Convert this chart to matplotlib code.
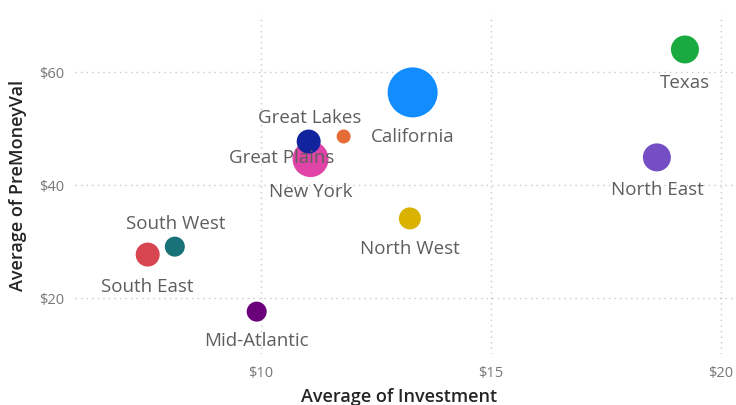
import matplotlib
matplotlib.use('Agg')
import matplotlib.pyplot as plt
import numpy as np

plt.rcParams['font.family'] = ['Open Sans', 'DejaVu Sans']

regions = ['Texas', 'California', 'North East', 'New York', 'Great Lakes',
           'Great Plains', 'North West', 'South West', 'South East', 'Mid-Atlantic']
investment = [19.22, 13.30, 18.61, 11.08, 11.04, 11.80, 13.24, 8.13, 7.54, 9.91]
premoney = [63.9, 56.3, 44.8, 44.5, 47.6, 48.5, 34.0, 29.0, 27.6, 17.5]
deals = [196, 625, 196, 324, 144, 49, 121, 100, 144, 100]
colors = ['#1AAB40', '#118DFF', '#744EC2', '#E044A7', '#12239E',
          '#E66C37', '#D9B300', '#197278', '#D64550', '#6B007B']
# label offsets in pixels from bubble centre
label_offsets = [(0, -33), (0, -44), (0, -32), (0, -32), (1, 25),
                 (-62, -21), (0, -30), (1, 24), (0, -31), (0, -28)]

fig = plt.figure(figsize=(7.36, 4.06), dpi=100)
ax = fig.add_axes([75/736, 1 - 355/406, 1 - 75/736, 339/406])

sizes = np.array(deals) * (2 * 0.72) ** 2  # radius^2 in px -> points^2
ax.scatter(investment, premoney, s=sizes, c=colors, zorder=3, linewidths=0)

for name, x, y, off in zip(regions, investment, premoney, label_offsets):
    ax.annotate(name, xy=(x, y), xytext=off, textcoords='offset pixels',
                ha='center', va='center', fontsize=13.5, color='#605E5C', zorder=4)

ax.set_xlim(5.96, 20.33)
ax.set_ylim(10, 70)
ax.set_xticks([10, 15, 20])
ax.set_xticklabels(['$10', '$15', '$20'])
ax.set_yticks([20, 40, 60])
ax.set_yticklabels(['$20', '$40', '$60'])
ax.tick_params(length=0, labelsize=10.5, colors='#777777', pad=8)
ax.grid(True, linestyle=(0, (1, 3)), color='#C8C8C8', linewidth=1)
for s in ax.spines.values():
    s.set_visible(False)

ax.set_xlabel('Average of Investment', fontsize=13, color='#252423', fontweight='semibold')
ax.set_ylabel('Average of PreMoneyVal', fontsize=13, color='#252423', fontweight='semibold')
ax.xaxis.set_label_coords(0.49, -0.097)
ax.yaxis.set_label_coords(-0.073, 0.5)

fig.savefig('out.png', dpi=100)
